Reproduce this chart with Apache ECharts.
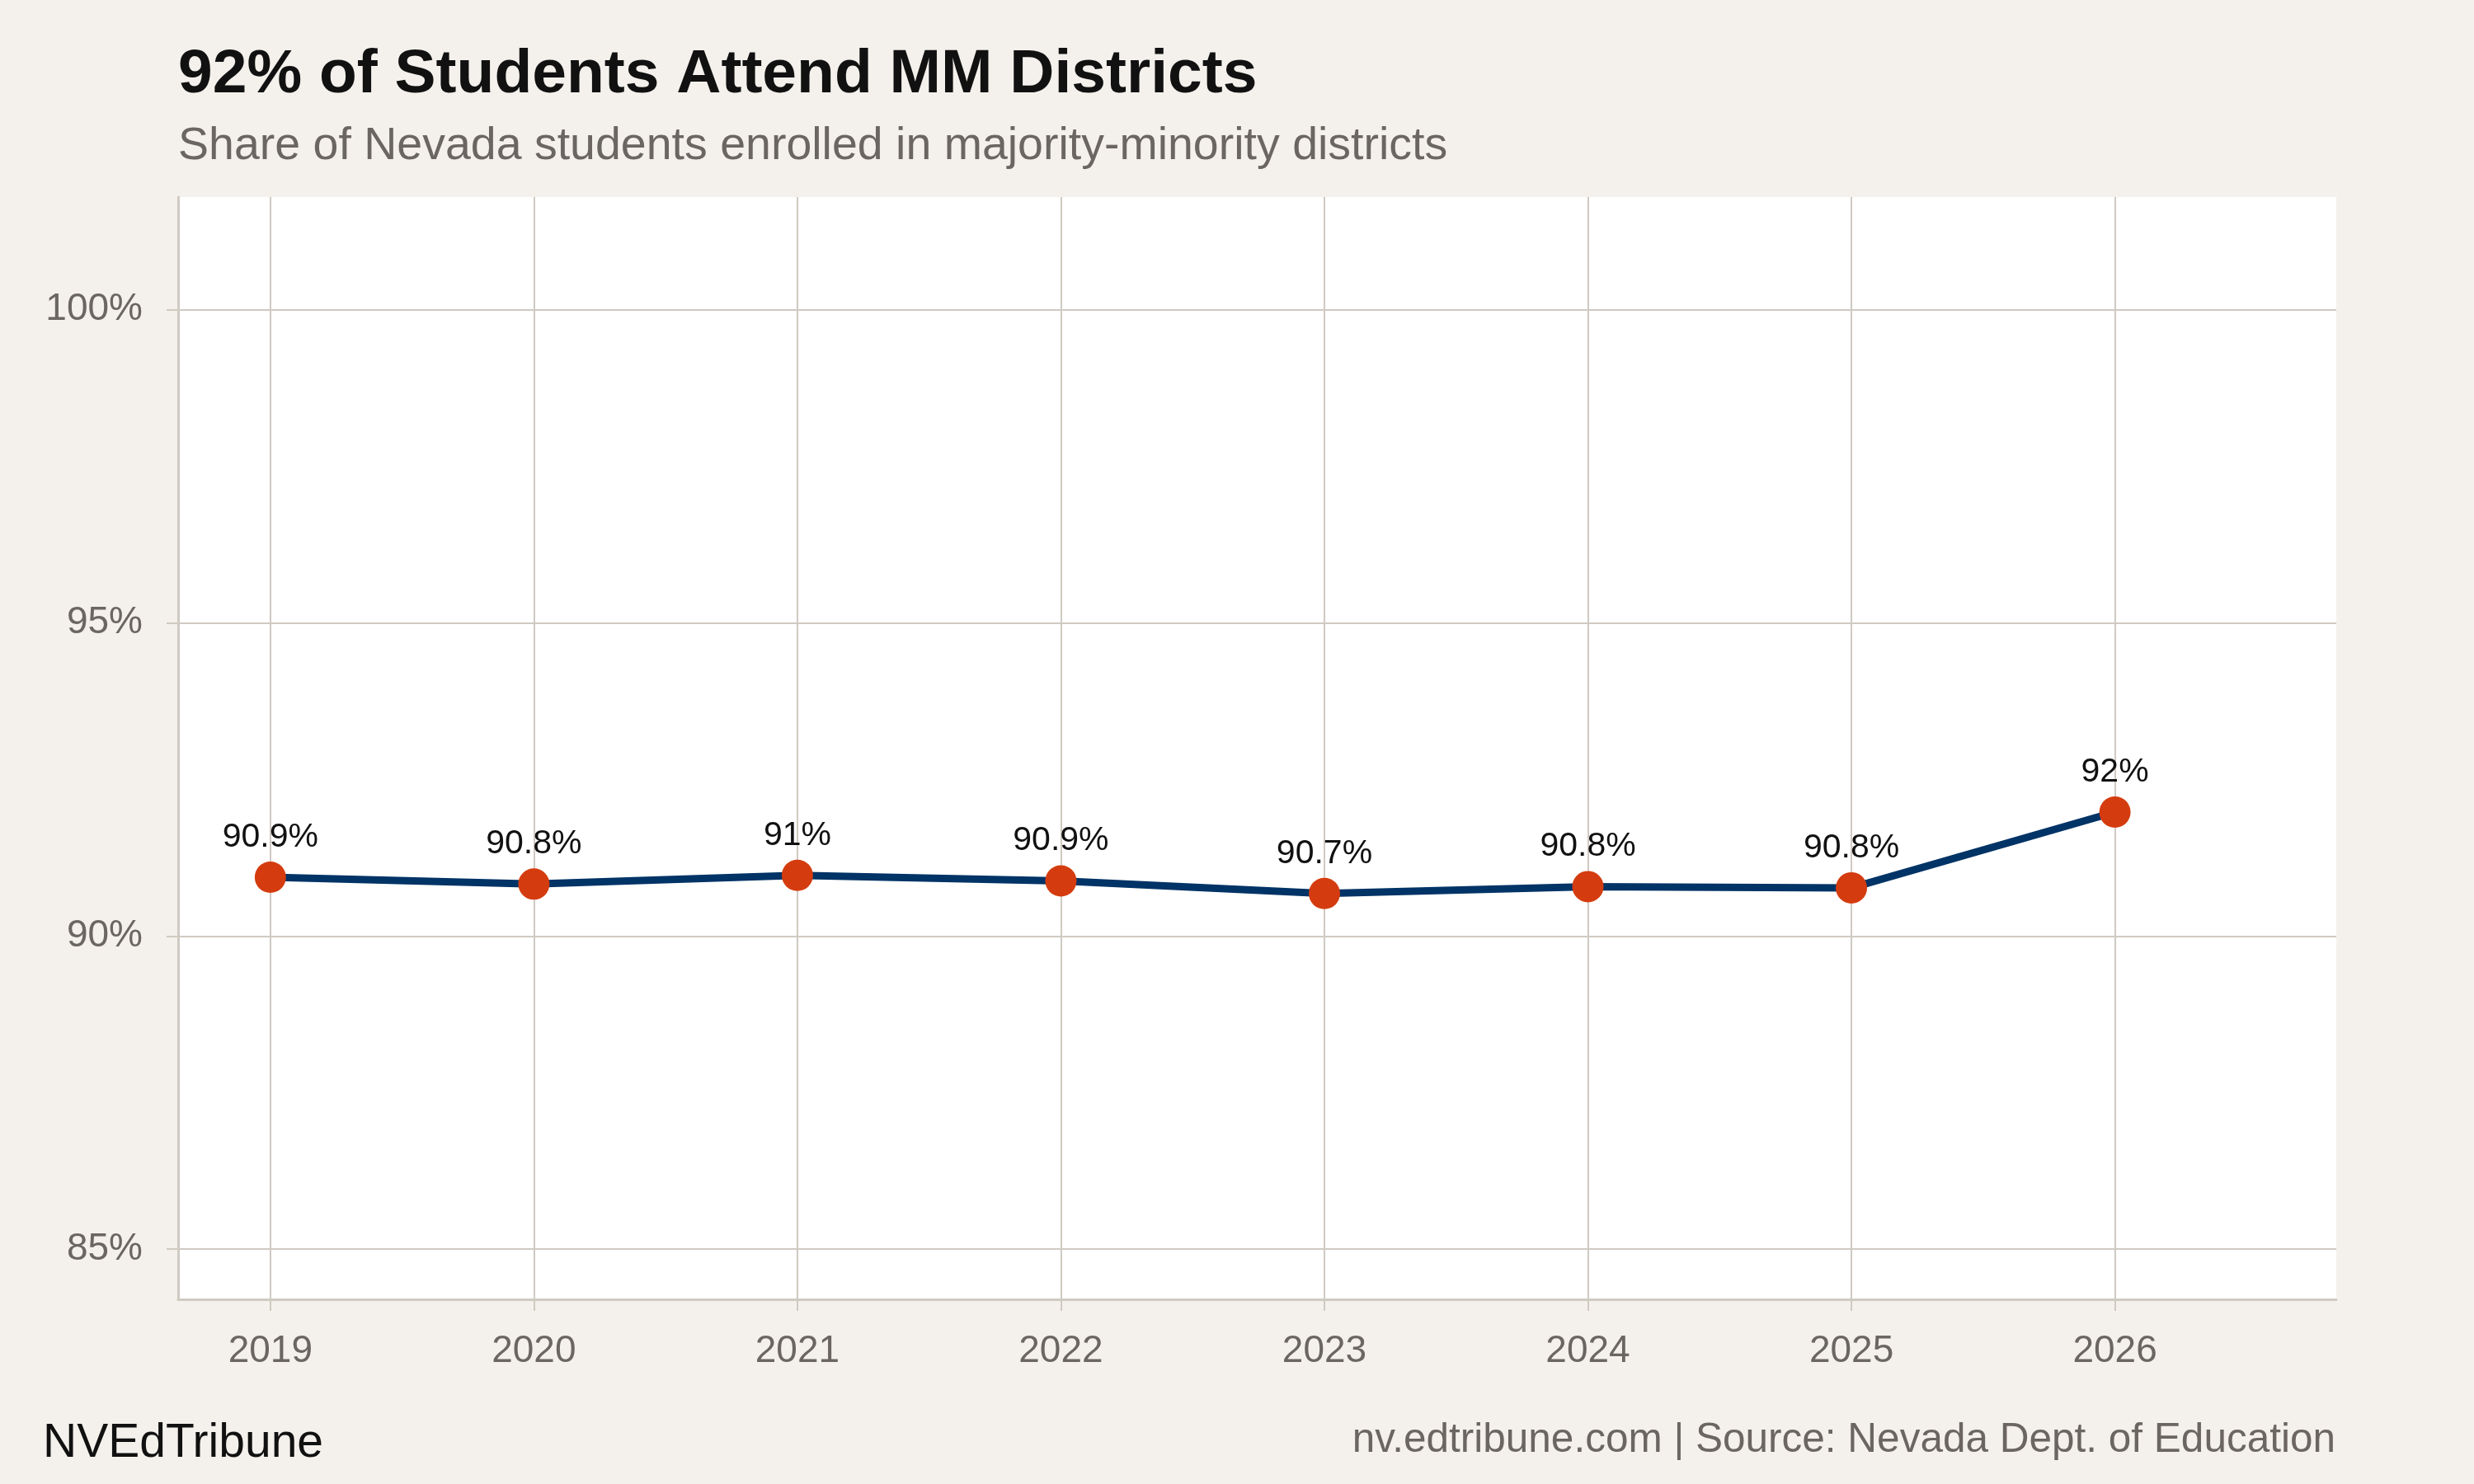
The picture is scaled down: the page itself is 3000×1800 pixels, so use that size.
<!DOCTYPE html>
<html>
<head>
<meta charset="utf-8">
<script src="https://cdn.jsdelivr.net/npm/echarts@6/dist/echarts.min.js"></script>
<style>
html,body{margin:0;padding:0;background:#f4f1ec;}
#chart{width:3000px;height:1800px;}
</style>
</head>
<body>
<div id="chart"></div>
<script>
var years = [2019, 2020, 2021, 2022, 2023, 2024, 2025, 2026];
var shares = [90.94, 90.83, 90.97, 90.88, 90.68, 90.79, 90.77, 91.98];
var yTicks = [85, 90, 95, 100];
var xTicks = [2019, 2020, 2021, 2022, 2023, 2024, 2025, 2026];

var titleText = '92% of Students Attend MM Districts';
var subtitleText = 'Share of Nevada students enrolled in majority-minority districts';
var brandText = 'NVEdTribune';
var sourceText = 'nv.edtribune.com | Source: Nevada Dept. of Education';

var FONT = '"Liberation Sans", Arial, Helvetica, sans-serif';
var GRIDC = '#cfcac2';
var GRAY = '#6b6661';

var chart = echarts.init(document.getElementById('chart'), null, {renderer: 'canvas'});
var seriesData = years.map(function (y, i) { return [y, shares[i]]; });

chart.setOption({
  backgroundColor: '#f4f1ec',
  animation: false,
  title: [
    {text: titleText, left: 216, top: 54, padding: 0,
     textStyle: {fontFamily: FONT, fontSize: 75, fontWeight: 'bold', color: '#111111', lineHeight: 75}},
    {text: subtitleText, left: 216, top: 150, padding: 0,
     textStyle: {fontFamily: FONT, fontSize: 55.5, fontWeight: 'normal', color: GRAY, lineHeight: 55.5}},
    {text: brandText, left: 52, top: 1723, padding: 0,
     textStyle: {fontFamily: FONT, fontSize: 57, fontWeight: 'normal', color: '#111111', lineHeight: 57}},
    {text: sourceText, right: 168, top: 1723, padding: 0,
     textStyle: {fontFamily: FONT, fontSize: 49.5, fontWeight: 'normal', color: GRAY, lineHeight: 49.5}}
  ],
  grid: {left: 216, right: 167, top: 239, bottom: 224, show: true, backgroundColor: '#ffffff', borderWidth: 0, containLabel: false},
  xAxis: {
    type: 'value', min: 2018.65, max: 2026.84,
    axisLine: {show: true, onZero: false, lineStyle: {color: GRIDC, width: 3}},
    axisTick: {show: true, customValues: xTicks, length: 14, lineStyle: {color: GRIDC, width: 2}},
    axisLabel: {show: true, customValues: xTicks, margin: 40, fontFamily: FONT, fontSize: 46, color: GRAY,
      formatter: function (v) { return String(v); }},
    splitLine: {show: true, lineStyle: {color: GRIDC, width: 2}}
  },
  yAxis: {
    type: 'value', min: 84.2, max: 101.8,
    axisLine: {show: true, onZero: false, lineStyle: {color: GRIDC, width: 3}},
    axisTick: {show: true, customValues: yTicks, length: 14, lineStyle: {color: GRIDC, width: 2}},
    axisLabel: {show: true, customValues: yTicks, margin: 43, fontFamily: FONT, fontSize: 46, color: GRAY,
      padding: [10, 0, 0, 0],
      formatter: function (v) { return v + '%'; }},
    splitLine: {show: true, lineStyle: {color: GRIDC, width: 2}}
  },
  series: [{
    type: 'line',
    data: seriesData,
    symbol: 'circle',
    symbolSize: 38,
    lineStyle: {color: '#003366', width: 9},
    itemStyle: {color: '#d43c0f', borderWidth: 0},
    label: {
      show: true, position: 'top', distance: 9,
      fontFamily: FONT, fontSize: 41, color: '#111111',
      formatter: function (p) { return (Math.round(p.value[1] * 10) / 10) + '%'; }
    },
    z: 3
  }]
});
</script>
</body>
</html>
